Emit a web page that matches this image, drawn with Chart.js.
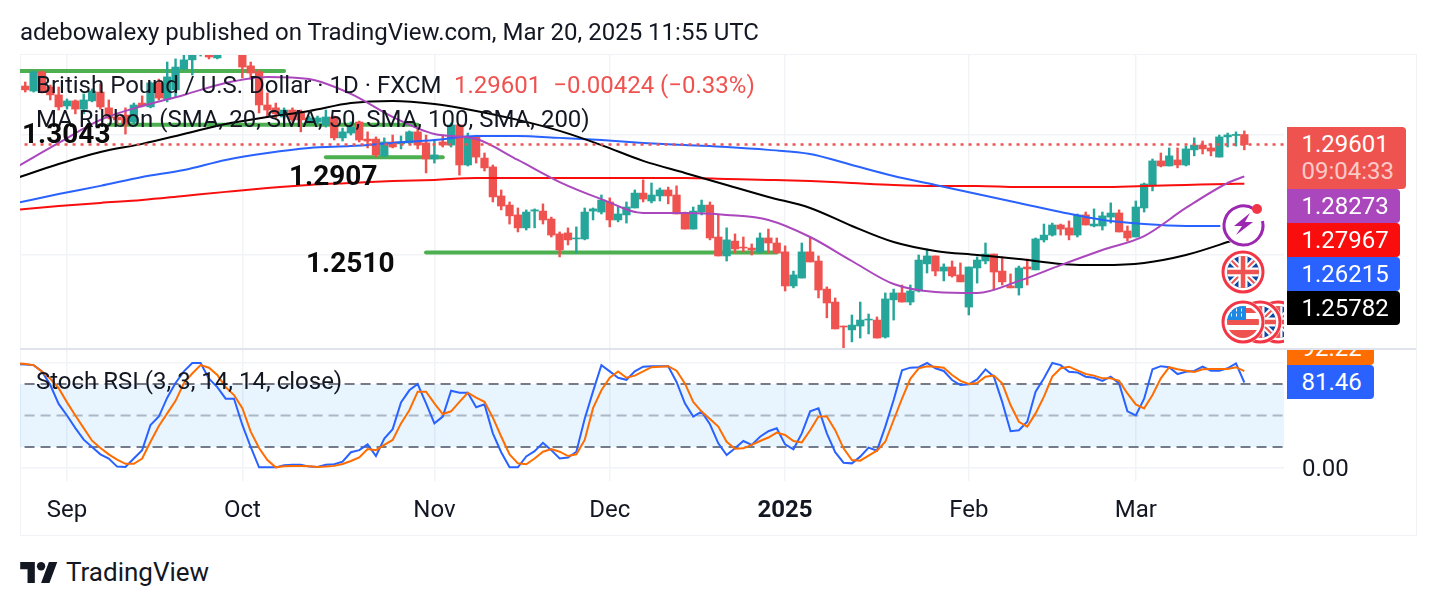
<!DOCTYPE html>
<html>
<head>
<meta charset="utf-8">
<title>GBP/USD daily</title>
<script src="https://cdn.jsdelivr.net/npm/chart.js@4"></script>
<style>
  html, body { margin: 0; padding: 0; background: #fff; }
  body { width: 1436px; height: 606px; position: relative; overflow: hidden; font-family: Roboto, sans-serif; color: #131722; }
  .abs { position: absolute; white-space: pre; line-height: 1; }
  #frame { left: 20px; top: 54px; width: 1395px; height: 480px; border: 1.5px solid #f0f2f6; box-sizing: content-box; }
  #divider { left: 20px; top: 348px; width: 1396px; height: 2px; background: #e0e3eb; }
  canvas { position: absolute; left: 0; }
  .legend { font-size: 24px; }
  .level { font-size: 28px; font-weight: 700; color: #0b0b0b; }
  .tag { left: 1287px; width: 113px; height: 34px; color: #fff; font-size: 24px; line-height: 34px; border-radius: 0 4px 4px 0; text-indent: 14.5px; }
</style>
</head>
<body>
<div class="abs" id="frame"></div>
<canvas id="priceChart" width="1436" height="349" style="top:0"></canvas>
<canvas id="stochChart" width="1436" height="186" style="top:350px"></canvas>
<div class="abs" id="divider"></div>
<div id="overlay"></div>

<svg class="abs" style="left:1215px;top:195px" width="69" height="154" viewBox="1215 195 69 154">
  <defs>
    <g id="ukFlag">
      <clipPath id="ukClip"><circle r="16"/></clipPath>
      <g clip-path="url(#ukClip)">
        <rect x="-16" y="-16" width="32" height="32" fill="#0d47a1"/>
        <path d="M-16 -16L16 16M16 -16L-16 16" stroke="#fff" stroke-width="6"/>
        <path d="M-16 -16L16 16M16 -16L-16 16" stroke="#ef5350" stroke-width="2"/>
        <path d="M0 -16V16M-16 0H16" stroke="#fff" stroke-width="9"/>
        <path d="M0 -16V16M-16 0H16" stroke="#ef5350" stroke-width="4.5"/>
      </g>
      <circle r="20" fill="none" stroke="#f23645" stroke-width="3"/>
    </g>
    <g id="usFlag">
      <clipPath id="usClip"><circle r="16"/></clipPath>
      <g clip-path="url(#usClip)">
        <rect x="-16" y="-16" width="32" height="32" fill="#fff"/>
        <rect x="-16" y="-3" width="32" height="6" fill="#ef5350"/>
        <rect x="-16" y="8" width="32" height="8" fill="#ef5350"/>
        <rect x="-16" y="-14" width="32" height="5" fill="#ef5350"/>
        <rect x="-16" y="-16" width="19" height="14" fill="#1e88e5"/>
        <path d="M-12 -12h1M-7 -12h1M-2 -12h1M-12 -7h1M-7 -7h1M-2 -7h1" stroke="#fff" stroke-width="3"/>
      </g>
      <circle r="20" fill="#fff" fill-opacity="0" stroke="#f23645" stroke-width="3"/>
    </g>
  </defs>
  <circle cx="1243" cy="223" r="23" fill="#fff"/>
  <path d="M1254 209A19.5 19.5 0 1 0 1262.5 221" fill="none" stroke="#9c27b0" stroke-width="3"/>
  <path d="M1250 213L1234 226H1242L1236 235L1253 222H1245Z" fill="#9c27b0"/>
  <circle cx="1257" cy="209" r="5" fill="#f23645"/>
  <circle cx="1243" cy="272" r="22" fill="#fff"/>
  <use href="#ukFlag" x="1243" y="272"/>
  <circle cx="1278" cy="322" r="22" fill="#fff"/>
  <use href="#ukFlag" x="1278" y="322"/>
  <circle cx="1260" cy="322" r="22" fill="#fff"/>
  <use href="#ukFlag" x="1260" y="322"/>
  <circle cx="1243" cy="322" r="22" fill="#fff"/>
  <use href="#usFlag" x="1243" y="322"/>
</svg>

<svg class="abs" style="left:20px;top:561px" width="38" height="24" viewBox="0 4 36 23">
  <path d="M14 25H7V12H0V5h14v20zM28 25h-8l7.5-20h8L28 25z" fill="#131722"/>
  <circle cx="20" cy="9" r="4" fill="#131722"/>
</svg>

<script>
// Daily GBP/USD candles: bar 0 is Aug 26, bar 146 is Mar 20
const opens = [
  1.3204,1.3183,1.3263,1.3200,1.3167,1.3121,1.3142,1.3108,1.3142,1.3179,
  1.3113,1.3075,1.3083,1.3054,1.3133,1.3117,1.3217,1.3150,1.3188,1.3275,
  1.3313,1.3342,1.3354,1.3321,1.3379,1.3371,1.3363,1.3288,1.3263,1.3125,
  1.3113,1.3075,1.3104,1.3092,1.3058,1.3054,1.3042,1.3075,1.2988,1.3008,
  1.3054,1.2983,1.2983,1.2913,1.2971,1.2963,1.2967,1.3013,1.2967,1.2900,
  1.2971,1.2958,1.3042,1.2875,1.2992,1.2904,1.2867,1.2746,1.2708,1.2667,
  1.2613,1.2683,1.2683,1.2650,1.2588,1.2592,1.2567,1.2567,1.2683,1.2679,
  1.2721,1.2646,1.2667,1.2696,1.2758,1.2725,1.2746,1.2771,1.2750,1.2675,
  1.2608,1.2679,1.2708,1.2575,1.2496,1.2558,1.2533,1.2529,1.2513,1.2571,
  1.2550,1.2513,1.2371,1.2404,1.2513,1.2475,1.2358,1.2304,1.2204,1.2188,
  1.2204,1.2229,1.2229,1.2158,1.2313,1.2342,1.2304,1.2350,1.2463,1.2496,
  1.2433,1.2450,1.2417,1.2283,1.2446,1.2475,1.2504,1.2433,1.2371,1.2363,
  1.2450,1.2438,1.2563,1.2583,1.2625,1.2613,1.2583,1.2667,1.2621,1.2621,
  1.2658,1.2675,1.2600,1.2575,1.2696,1.2792,1.2892,1.2871,1.2896,1.2875,
  1.2938,1.2958,1.2946,1.2908,1.2992,1.2998,1.3002
];
const highs = [
  1.3221,1.3267,1.3267,1.3208,1.3200,1.3150,1.3146,1.3171,1.3192,1.3213,
  1.3146,1.3092,1.3113,1.3133,1.3163,1.3221,1.3233,1.3304,1.3317,1.3338,
  1.3354,1.3375,1.3363,1.3371,1.3388,1.3404,1.3379,1.3304,1.3271,1.3175,
  1.3133,1.3113,1.3113,1.3104,1.3079,1.3079,1.3104,1.3079,1.3029,1.3054,
  1.3058,1.3013,1.2992,1.2988,1.3000,1.2996,1.3017,1.3033,1.3000,1.2979,
  1.3000,1.3050,1.3042,1.3008,1.2992,1.2925,1.2875,1.2771,1.2721,1.2696,
  1.2688,1.2692,1.2713,1.2658,1.2596,1.2613,1.2617,1.2696,1.2696,1.2750,
  1.2738,1.2700,1.2721,1.2771,1.2813,1.2800,1.2779,1.2783,1.2788,1.2679,
  1.2700,1.2729,1.2721,1.2667,1.2613,1.2588,1.2575,1.2546,1.2592,1.2608,
  1.2571,1.2538,1.2433,1.2550,1.2575,1.2496,1.2367,1.2321,1.2204,1.2250,
  1.2304,1.2254,1.2242,1.2342,1.2358,1.2375,1.2375,1.2500,1.2525,1.2496,
  1.2463,1.2475,1.2467,1.2450,1.2492,1.2550,1.2504,1.2492,1.2421,1.2454,
  1.2483,1.2571,1.2629,1.2633,1.2629,1.2642,1.2671,1.2679,1.2692,1.2679,
  1.2717,1.2688,1.2621,1.2725,1.2800,1.2900,1.2925,1.2946,1.2946,1.2954,
  1.2988,1.2975,1.2963,1.3000,1.3008,1.3013,1.3017
];
const lows = [
  1.3179,1.3179,1.3175,1.3146,1.3104,1.3108,1.3088,1.3088,1.3138,1.3108,
  1.3067,1.3046,1.3004,1.3046,1.3117,1.3113,1.3146,1.3138,1.3158,1.3271,
  1.3250,1.3329,1.3317,1.3317,1.3346,1.3354,1.3238,1.3233,1.3092,1.3075,
  1.3071,1.3067,1.3054,1.3013,1.3050,1.3046,1.3033,1.2979,1.2975,1.3000,
  1.2971,1.2946,1.2908,1.2908,1.2946,1.2942,1.2963,1.2942,1.2842,1.2883,
  1.2950,1.2950,1.2833,1.2871,1.2883,1.2850,1.2721,1.2688,1.2629,1.2596,
  1.2604,1.2613,1.2629,1.2575,1.2492,1.2542,1.2508,1.2563,1.2646,1.2671,
  1.2617,1.2638,1.2633,1.2696,1.2721,1.2717,1.2725,1.2713,1.2671,1.2608,
  1.2608,1.2667,1.2563,1.2496,1.2475,1.2508,1.2513,1.2500,1.2508,1.2508,
  1.2508,1.2350,1.2363,1.2404,1.2471,1.2321,1.2238,1.2192,1.2113,1.2138,
  1.2154,1.2171,1.2154,1.2154,1.2229,1.2304,1.2292,1.2346,1.2425,1.2413,
  1.2392,1.2408,1.2388,1.2250,1.2383,1.2463,1.2354,1.2375,1.2363,1.2333,
  1.2375,1.2438,1.2554,1.2579,1.2583,1.2563,1.2575,1.2625,1.2617,1.2604,
  1.2633,1.2596,1.2558,1.2575,1.2679,1.2767,1.2867,1.2871,1.2863,1.2871,
  1.2913,1.2921,1.2913,1.2908,1.2950,1.2954,1.2938
];
const closes = [
  1.3188,1.3263,1.3179,1.3167,1.3117,1.3142,1.3108,1.3146,1.3183,1.3117,
  1.3071,1.3063,1.3046,1.3125,1.3121,1.3217,1.3154,1.3242,1.3283,1.3313,
  1.3346,1.3367,1.3325,1.3363,1.3354,1.3396,1.3283,1.3258,1.3125,1.3104,
  1.3088,1.3104,1.3063,1.3063,1.3071,1.3071,1.3075,1.2988,1.3013,1.3033,
  1.2979,1.2975,1.2917,1.2971,1.2950,1.2971,1.3013,1.2958,1.2900,1.2917,
  1.2958,1.3042,1.2875,1.2992,1.2908,1.2863,1.2742,1.2704,1.2663,1.2613,
  1.2679,1.2688,1.2646,1.2583,1.2521,1.2563,1.2571,1.2679,1.2692,1.2729,
  1.2646,1.2671,1.2700,1.2758,1.2733,1.2750,1.2771,1.2746,1.2671,1.2608,
  1.2683,1.2708,1.2571,1.2496,1.2563,1.2525,1.2529,1.2521,1.2571,1.2550,
  1.2508,1.2371,1.2417,1.2513,1.2471,1.2354,1.2300,1.2192,1.2200,1.2208,
  1.2229,1.2233,1.2154,1.2317,1.2342,1.2304,1.2350,1.2479,1.2496,1.2433,
  1.2450,1.2413,1.2388,1.2450,1.2479,1.2504,1.2429,1.2388,1.2363,1.2446,
  1.2442,1.2567,1.2583,1.2625,1.2608,1.2583,1.2667,1.2625,1.2629,1.2663,
  1.2675,1.2596,1.2571,1.2700,1.2796,1.2892,1.2871,1.2913,1.2875,1.2942,
  1.2958,1.2942,1.2933,1.2992,1.3000,1.30025,1.29601
];

// Moving averages sampled every five bars
const maBars = [-1,4,9,14,19,24,29,34,39,44,49,54,59,64,69,74,79,84,89,94,99,104,109,114,119,124,129,134,139,144,146];
const sma20 = [1.2867,1.2967,1.3063,1.3121,1.3167,1.3217,1.3242,1.3233,1.3171,1.3075,1.3004,1.2983,1.2896,1.2804,1.2733,1.2675,1.2675,1.2667,1.2646,1.2575,1.2475,1.2379,1.2346,1.2342,1.2392,1.2458,1.2521,1.2579,1.2696,1.2800,1.28273];
const sma50 = [1.2821,1.2879,1.2929,1.2963,1.3004,1.3046,1.3075,1.3100,1.3133,1.3142,1.3129,1.3100,1.3063,1.3017,1.2958,1.2892,1.2842,1.2792,1.2742,1.2696,1.2621,1.2554,1.2517,1.2500,1.2483,1.2463,1.2458,1.2467,1.2500,1.2554,1.25782];
const sma100 = [1.2717,1.2754,1.2788,1.2825,1.2854,1.2896,1.2925,1.2946,1.2954,1.2967,1.2979,1.2996,1.2996,1.2988,1.2979,1.2967,1.2958,1.2950,1.2938,1.2921,1.2875,1.2829,1.2792,1.2754,1.2717,1.2679,1.2646,1.2629,1.2621,1.2621,1.26215];
const sma200 = [1.2688,1.2704,1.2717,1.2729,1.2746,1.2763,1.2779,1.2792,1.2800,1.2808,1.2813,1.2821,1.2821,1.2821,1.2821,1.2821,1.2821,1.2817,1.2813,1.2808,1.2800,1.2792,1.2788,1.2788,1.2783,1.2783,1.2783,1.2788,1.2792,1.2796,1.27967];

// Stochastic RSI, first entry sits one bar left of the candles
const stochK = [
  99,98.7,98,92,79,61,50,38,27,20,13,9,1.3,1,9,17,41,49,67,81,92,100,100,85,77,66,66,41,20,0.6,0.6,0.6,2.5,3,3,1.3,1,3,3.5,6,15,17,22.5,11.4,28,37,62.5,74,80,61.6,42.5,49,73.6,71.7,71.7,57.8,60.6,33,15,0.6,0.6,11,16,24,17,9,10,15.5,47,73,98,92,86,84,92,96.5,
  97,97,97,82,61.6,49,53.7,41.6,23.5,12.4,18.7,25.7,22,29.8,35,37.8,22.5,17.8,33,54,56.8,33,15,5,4.4,10.8,19.4,16.5,39.4,64.8,93,95.6,96,100,95,92.4,83.8,79,79.7,84.4,94,87,63,35,36,44,72.7,85.4,100,98,91.7,91,87,86,83,87,80.6,54,50,66,94,97,96,89.5,91.7,92.4,96.5,92.7,92.7,95,99.7,81.46
];
const stochD = [
  100,99,98,92,85,76,62.5,50,38,26,19,13,8,4,4,9,25,40,52,64,81,90,98,95.5,88.6,77,69.5,57,34.6,19,7.6,0.6,1.6,2,2,1.6,1,1.3,2,3.8,6.7,10,18,17,22,26.7,42.5,55,72.7,72.7,61.6,51.4,54,63,71.7,67,63,48,30,13,4.4,3.5,9,15.5,18,15.5,11.4,13,26.7,57,74,86,92,86,88,92,
  96,96.5,97,92.7,80.6,63,53.7,46.7,39.4,25,18.4,18.7,22,25.7,29,33.7,31.4,25.7,24.4,36,49,49,36,18.7,7.6,7,11.7,16.5,25,45.7,66,85,95,97,96.5,95.6,88.6,83,80,81,87,88,80.6,60,44,39.4,52,68,87,95,96.5,93,89.5,88,85.4,85.4,83,71,60.6,56.8,69.5,85.4,96,94,92.7,91.4,94,94.3,94.3,94.3,96,92.22
];

// Time axis
const monthLabels = ['Sep','Oct','Nov','Dec','2025','Feb','Mar'];
const monthBars = [5,26,49,70,91,113,133];

// Hand-drawn support levels
const levelFrom = [-1,10,36,48];
const levelTo = [31,47,50,90];
const levelPrice = [1.3267,1.3043,1.2907,1.2510];

const lastPrice = 1.29601;
const priceChange = -0.00424;
const pricePct = -0.33;
const countdown = '09:04:33';

const UP = '#26a69a';
const DOWN = '#ef5350';
const GRID = '#f2f3f6';
const FONT = 'Roboto, sans-serif';

// visible range in bars
const xMin = -0.63;
const xMax = 150.75;

function monthTicks(scale) {
  scale.ticks = monthBars.map(b => ({ value: b }));
}

function noPadding(scale) {
  scale.paddingTop = 0;
  scale.paddingBottom = 0;
  scale.paddingLeft = 0;
  scale.paddingRight = 0;
}

function timeScale(showLabels, height) {
  return {
    type: 'linear',
    offset: false,
    min: xMin,
    max: xMax,
    afterBuildTicks: monthTicks,
    afterFit: s => { s.height = height; noPadding(s); },
    border: { display: false },
    grid: { color: GRID, lineWidth: 1.5, drawTicks: false, offset: false },
    ticks: {
      display: showLabels,
      padding: 16,
      maxRotation: 0,
      autoSkip: false,
      color: '#131722',
      font: ctx => ({ family: FONT, size: 24, weight: ctx.tick && ctx.tick.value === 91 ? 'bold' : 'normal' }),
      callback: v => monthLabels[monthBars.indexOf(v)]
    }
  };
}

function flatLine(value, extra) {
  return Object.assign({
    type: 'line',
    data: [{ x: -2, y: value }, { x: 153, y: value }],
    pointRadius: 0,
    borderWidth: 1.5
  }, extra);
}

function maLine(values, color) {
  return {
    type: 'line',
    data: maBars.map((b, i) => ({ x: b, y: values[i] })),
    borderColor: color,
    borderWidth: 2,
    pointRadius: 0,
    cubicInterpolationMode: 'monotone',
    order: 1
  };
}

const candleColors = closes.map((c, i) => (c >= opens[i] ? UP : DOWN));

const levelSets = levelPrice.map((p, i) => ({
  type: 'line',
  data: [{ x: levelFrom[i], y: p }, { x: levelTo[i], y: p }],
  borderColor: '#4caf50',
  borderWidth: 4,
  borderCapStyle: 'round',
  pointRadius: 0,
  order: 5
}));

// 1. PRICE PANE
new Chart(document.getElementById('priceChart'), {
  type: 'bar',
  data: {
    datasets: [
      {
        data: closes.map((c, i) => ({ x: i, y: [lows[i], highs[i]] })),
        backgroundColor: candleColors,
        barThickness: 1.8,
        grouped: false,
        order: 3
      },
      {
        data: closes.map((c, i) => ({ x: i, y: [opens[i], c] })),
        backgroundColor: candleColors,
        barThickness: 7.6,
        grouped: false,
        order: 2
      },
      maLine(sma20, '#ab47bc'),
      maLine(sma50, '#000000'),
      maLine(sma100, '#2962ff'),
      maLine(sma200, '#f90d0d'),
      ...levelSets,
      flatLine(lastPrice, { borderColor: DOWN, borderDash: [3, 5], borderWidth: 2.4, order: 0 })
    ]
  },
  options: {
    responsive: false,
    animation: false,
    events: [],
    layout: { padding: { left: 20, right: 20, top: 55, bottom: 1 } },
    plugins: { legend: { display: false }, tooltip: { enabled: false } },
    scales: {
      x: timeScale(false, 0),
      y: {
        position: 'right',
        min: 1.21125,
        max: 1.33333,
        afterBuildTicks: s => { s.ticks = [{ value: 1.25 }, { value: 1.3 }]; },
        afterFit: s => { s.width = 132; noPadding(s); },
        border: { display: false },
        grid: { color: GRID, lineWidth: 1.5, drawTicks: false },
        ticks: { display: false }
      }
    }
  }
});

// 2. STOCH RSI PANE
new Chart(document.getElementById('stochChart'), {
  type: 'line',
  data: {
    datasets: [
      flatLine(80, { borderColor: '#787b86', borderDash: [10, 6], borderWidth: 2, fill: '+2', backgroundColor: 'rgba(33,150,243,0.1)', order: 4 }),
      flatLine(50, { borderColor: 'rgba(120,123,134,0.5)', borderDash: [10, 6], borderWidth: 2, order: 4 }),
      flatLine(20, { borderColor: '#787b86', borderDash: [10, 6], borderWidth: 2, order: 4 }),
      { data: stochK.map((v, i) => ({ x: i - 1, y: v })), borderColor: '#2962ff', borderWidth: 2, pointRadius: 0, order: 2 },
      { data: stochD.map((v, i) => ({ x: i - 1, y: v })), borderColor: '#ff6d00', borderWidth: 2, pointRadius: 0, order: 1 }
    ]
  },
  options: {
    responsive: false,
    animation: false,
    events: [],
    layout: { padding: { left: 20, right: 20, top: 0, bottom: 1 } },
    plugins: { legend: { display: false }, tooltip: { enabled: false } },
    scales: {
      x: timeScale(true, 54),
      y: {
        position: 'right',
        min: -12.4,
        max: 112.4,
        afterBuildTicks: s => { s.ticks = [{ value: 0 }, { value: 100 }]; },
        afterFit: s => { s.width = 132; noPadding(s); },
        border: { display: false },
        grid: { color: GRID, lineWidth: 1.5, drawTicks: false },
        ticks: {
          padding: 18,
          labelOffset: 2,
          color: '#131722',
          font: { family: FONT, size: 24 },
          callback: v => (v === 0 ? '0.00' : '')
        }
      }
    }
  }
});

// 3. TEXT, LEVEL LABELS AND PRICE TAGS
const overlay = document.getElementById('overlay');

function addText(text, left, top, cls, css) {
  const el = document.createElement('div');
  el.className = 'abs ' + (cls || '');
  el.textContent = text;
  el.style.left = left + 'px';
  el.style.top = top + 'px';
  Object.assign(el.style, css || {});
  overlay.appendChild(el);
  return el;
}

const signed = (v, d) => (v < 0 ? '\u2212' : '+') + Math.abs(v).toFixed(d);

addText('adebowalexy published on TradingView.com, Mar 20, 2025 11:55 UTC', 20, 20, '', { fontSize: '24px' });
addText('British Pound / U.S. Dollar \u00b7 1D \u00b7 FXCM', 36, 73, 'legend');
addText(`${lastPrice.toFixed(5)}  ${signed(priceChange, 5)} (${signed(pricePct, 2)}%)`, 454, 73, 'legend', { color: DOWN });
addText('MA Ribbon (SMA, 20, SMA, 50, SMA, 100, SMA, 200)', 36, 107, 'legend');
addText('Stoch RSI (3, 3, 14, 14, close)', 36, 369, 'legend');
addText('TradingView', 66, 559, '', { fontSize: '26px' });

addText(levelPrice[1].toFixed(4), 22, 120, 'level');
addText(levelPrice[2].toFixed(4), 289, 162, 'level');
addText(levelPrice[3].toFixed(4), 306, 249, 'level');

// main tag holds price and countdown
const mainTag = addText(lastPrice.toFixed(5), 1287, 127, 'tag', { width: '119px', height: '62px', background: DOWN });
const timer = document.createElement('div');
timer.textContent = countdown;
timer.style.cssText = 'line-height:24px;margin-top:-2px;color:rgba(255,255,255,0.7)';
mainTag.appendChild(timer);

const tagValues = [sma20, sma200, sma100, sma50].map(a => a[a.length - 1]);
const tagColors = ['#ab47bc', '#f90d0d', '#2962ff', '#000000'];
tagValues.forEach((v, i) => {
  addText(v.toFixed(5), 1287, 189 + i * 34, 'tag', { background: tagColors[i] });
});

// stoch tags, the upper one is cut off by the pane edge
const stochClip = document.createElement('div');
stochClip.className = 'abs';
stochClip.style.cssText = 'left:1287px;top:350px;width:90px;height:60px;overflow:hidden';
overlay.appendChild(stochClip);
[[stochD, '#ff6d00', -19], [stochK, '#2962ff', 15]].forEach(([arr, color, top]) => {
  const el = document.createElement('div');
  el.className = 'abs tag';
  el.textContent = arr[arr.length - 1].toFixed(2);
  el.style.left = '0';
  el.style.top = top + 'px';
  el.style.width = '87px';
  el.style.background = color;
  stochClip.appendChild(el);
});
</script>
</body>
</html>
